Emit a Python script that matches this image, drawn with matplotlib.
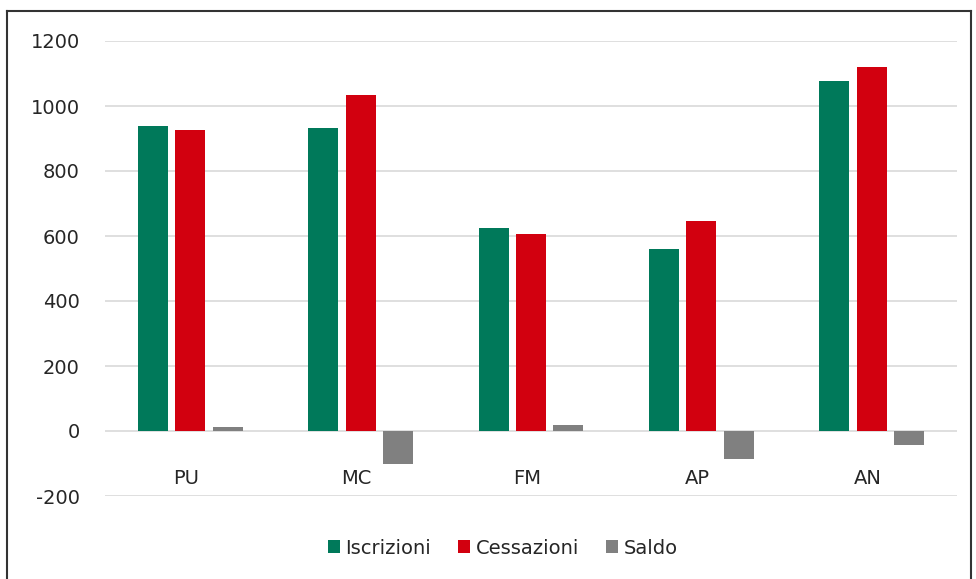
import matplotlib
matplotlib.use("Agg")
import matplotlib.pyplot as plt
import numpy as np
from matplotlib.lines import Line2D

plt.rcParams["axes.unicode_minus"] = False

# Dati per provincia
province = ['PU', 'MC', 'FM', 'AP', 'AN']
iscrizioni = [938, 932, 625, 560, 1077]
cessazioni = [926, 1034, 606, 646, 1120]
saldo = [12, -102, 19, -86, -43]

verde = "#00795A"
rosso = "#D2000F"
grigio = "#808080"

fig = plt.figure(figsize=(9.76, 5.79), dpi=100)
ax = fig.add_axes([105 / 976, (579 - 496) / 579, (957 - 105) / 976, (496 - 41) / 579])

x = np.arange(len(province))
passo = 0.22
larg = 0.176

ax.bar(x - passo, iscrizioni, larg, color=verde, label="Iscrizioni", zorder=3)
ax.bar(x, cessazioni, larg, color=rosso, label="Cessazioni", zorder=3)
ax.bar(x + passo, saldo, larg, color=grigio, label="Saldo", zorder=3)

ax.set_xlim(-0.5, len(province) - 0.5)
ax.set_ylim(-200, 1200)
ax.set_yticks(range(-200, 1201, 200))
ax.grid(axis="y", color="#D9D9D9", linewidth=1.2, zorder=0)
ax.set_xticks([])
for s in ax.spines.values():
    s.set_visible(False)
ax.tick_params(axis="y", length=0, pad=18, labelsize=14, labelcolor="#262626")

# etichette categorie sotto lo zero
for xi, p in zip(x, province):
    ax.annotate(p, xy=(xi, 0), xytext=(-3, -34), textcoords="offset points",
                ha="center", va="center", fontsize=14, color="#262626")

leg = fig.legend(loc="center", bbox_to_anchor=(503 / 976, 1 - 548 / 579), ncol=3,
                 frameon=False, fontsize=14, handlelength=0.6, handleheight=0.6,
                 handletextpad=0.3, columnspacing=1.4)
for t in leg.get_texts():
    t.set_color("#262626")

# cornice esterna
bordo = [((7, 7), (579, 11)), ((7, 971), (11, 11)), ((971, 971), (11, 579))]
for xs, ys in bordo:
    fig.add_artist(Line2D([v / 976 for v in xs], [1 - v / 579 for v in ys],
                          color="#333333", linewidth=1.5))

fig.savefig("out.png", dpi=100)
